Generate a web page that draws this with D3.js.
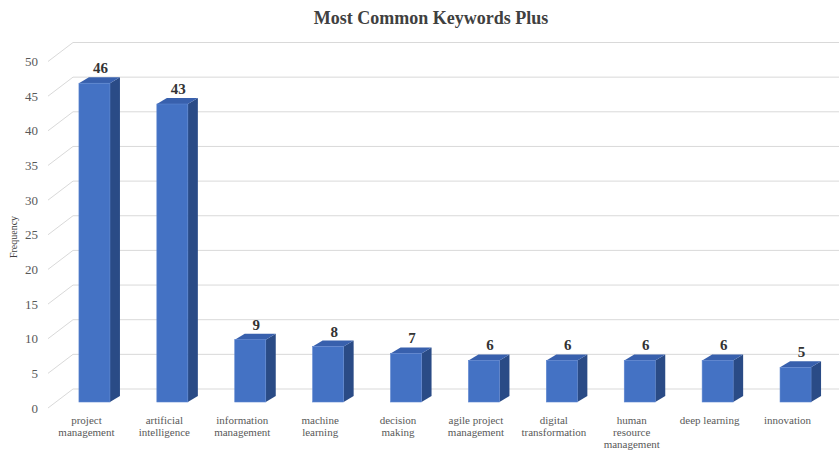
<!DOCTYPE html>
<html><head><meta charset="utf-8">
<script src="https://cdn.jsdelivr.net/npm/d3@7"></script>
<style>body{margin:0;background:#fff;} svg{display:block;}</style>
</head><body>
<svg id="chart" width="839" height="450"></svg>
<script>
const categories = [
  ["project","management"],
  ["artificial","intelligence"],
  ["information","management"],
  ["machine","learning"],
  ["decision","making"],
  ["agile project","management"],
  ["digital","transformation"],
  ["human","resource","management"],
  ["deep learning"],
  ["innovation"]
];
const values = [46, 43, 9, 8, 7, 6, 6, 6, 6, 5];
const yTicks = [0, 5, 10, 15, 20, 25, 30, 35, 40, 45, 50];
const title = "Most Common Keywords Plus";
const yTitle = "Frequency";

const svg = d3.select("#chart");
const serif = "'Liberation Serif','Times New Roman',serif";
const keys = categories.map(c => c.join(" "));

const y = d3.scaleLinear().domain([0, 50]).range([402, 55.5]);
const x = d3.scaleBand().domain(keys).range([55.5, 834.5]).paddingInner(0.602).paddingOuter(0.301);
const bw = x.bandwidth();
const dx = 10, dy = -6;
const backOff = -13, frontOff = 6;
const wallX0 = 73, wallX1 = 839, frontX = 48;

// title
svg.append("text").attr("x", 431).attr("y", 24).attr("text-anchor", "middle")
  .attr("font-family", serif).attr("font-weight", "bold").attr("font-size", 18)
  .attr("fill", "#404040").text(title);

// gridlines
const g = svg.append("g");
yTicks.forEach(v => {
  g.append("line").attr("x1", wallX0).attr("x2", wallX1)
    .attr("y1", y(v) + backOff).attr("y2", y(v) + backOff)
    .attr("stroke", "#d9d9d9").attr("stroke-width", 1);
  g.append("line").attr("x1", frontX).attr("x2", wallX0)
    .attr("y1", y(v) + frontOff).attr("y2", y(v) + backOff)
    .attr("stroke", "#d9d9d9").attr("stroke-width", 1);
  g.append("text").attr("x", 38).attr("y", y(v) + frontOff).attr("dy", "0.35em")
    .attr("text-anchor", "end").attr("font-family", serif).attr("font-size", 13)
    .attr("fill", "#595959").text(v);
});

// y title
svg.append("text").attr("transform", `translate(17,237) rotate(-90)`)
  .attr("text-anchor", "middle").attr("font-family", serif).attr("font-size", 10)
  .attr("fill", "#404040").text(yTitle);

// bars
const bars = svg.append("g");
keys.forEach((k, i) => {
  const v = values[i];
  const x0 = x(k), x1 = x0 + bw, yt = y(v), yb = y(0);
  bars.append("polygon")
    .attr("points", [[x1, yt], [x1 + dx, yt + dy], [x1 + dx, yb + dy], [x1, yb]].map(p => p.join(",")).join(" "))
    .attr("fill", "#2A4B86");
  bars.append("polygon")
    .attr("points", [[x0, yt], [x0 + dx, yt + dy], [x1 + dx, yt + dy], [x1, yt]].map(p => p.join(",")).join(" "))
    .attr("fill", "#3860AD");
  bars.append("rect").attr("x", x0).attr("y", yt).attr("width", bw).attr("height", yb - yt)
    .attr("fill", "#4472C4").attr("stroke", "#5b84cf").attr("stroke-width", 0.6);
  bars.append("text").attr("x", x0 + bw / 2 + 6).attr("y", yt + dy - 4)
    .attr("text-anchor", "middle").attr("font-family", serif).attr("font-weight", "bold")
    .attr("font-size", 15).attr("fill", "#333333").text(v);
  // category label
  const t = svg.append("text").attr("text-anchor", "middle").attr("font-family", serif)
    .attr("font-size", 11).attr("fill", "#595959");
  categories[i].forEach((line, j) => {
    t.append("tspan").attr("x", x0 + bw / 2 - 8).attr("y", 424 + j * 12).text(line);
  });
});
</script>
</body></html>
